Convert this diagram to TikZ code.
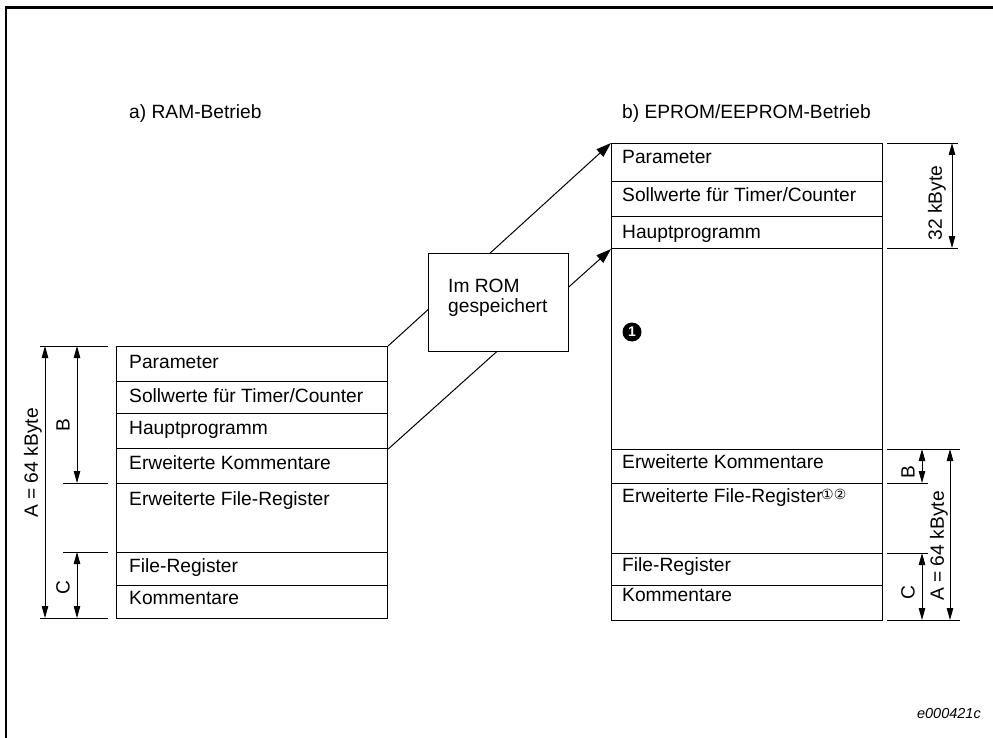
\documentclass[tikz,border=0pt]{standalone}
\usepackage{fontspec}
\setmainfont{Liberation Sans}
\newfontfamily\dejavu{DejaVu Sans}
\usetikzlibrary{arrows.meta}
\begin{document}
\begin{tikzpicture}[x=1pt,y=-1pt,
  cell/.style={draw, line width=1.1pt, anchor=north west, minimum width=271pt, inner sep=0pt},
  txt/.style={anchor=west, inner sep=0pt, text height=13.6pt, text depth=0pt, font=\fontsize{19.2}{19.5}\selectfont},
  ext/.style={line width=0.8pt},
  dim/.style={line width=0.8pt, {Triangle[length=12pt,width=6.5pt]}-{Triangle[length=12pt,width=6.5pt]}},
  dimlbl/.style={rotate=90, inner sep=0pt, font=\fontsize{19.2}{19.5}\selectfont},
  bigarrow/.style={line width=1pt, -{Triangle[length=15pt,width=10pt]}},
  rombox/.style={draw, fill=white, line width=1.1pt, anchor=north west, minimum width=140pt, minimum height=98pt, inner sep=0pt}
]
\useasboundingbox (0,0) rectangle (993,738);
% frame
\draw[line width=2.5pt] (6,738) -- (6,7.5) -- (993,7.5);

% titles
\node[txt] (ta) at (129,112) {a) RAM-Betrieb};
\node[txt] (tb) at (622,112) {b) EPROM/EEPROM-Betrieb};

% left memory map
\node[cell, minimum height=35pt] (L1) at (116,346) {};
\node[cell, minimum height=32pt] (L2) at (116,381) {};
\node[cell, minimum height=35pt] (L3) at (116,413) {};
\node[cell, minimum height=35pt] (L4) at (116,448) {};
\node[cell, minimum height=69pt] (L5) at (116,483) {};
\node[cell, minimum height=33pt] (L6) at (116,552) {};
\node[cell, minimum height=33pt] (L7) at (116,585) {};
\node[txt] at (129,362) {Parameter};
\node[txt] at (129,396) {Sollwerte für Timer/Counter};
\node[txt] at (129,428) {Hauptprogramm};
\node[txt] at (129,463) {Erweiterte Kommentare};
\node[txt] at (129,499) {Erweiterte File-Register};
\node[txt] at (129,566) {File-Register};
\node[txt] at (129,598) {Kommentare};

% right memory map
\node[cell, minimum height=38pt] (R1) at (611,143) {};
\node[cell, minimum height=35pt] (R2) at (611,181) {};
\node[cell, minimum height=32pt] (R3) at (611,216) {};
\node[cell, minimum height=201pt] (R4) at (611,248) {};
\node[cell, minimum height=34pt] (R5) at (611,449) {};
\node[cell, minimum height=70pt] (R6) at (611,483) {};
\node[cell, minimum height=32pt] (R7) at (611,553) {};
\node[cell, minimum height=35pt] (R8) at (611,585) {};
\node[txt] at (622,157) {Parameter};
\node[txt] at (622,195) {Sollwerte für Timer/Counter};
\node[txt] at (622,232) {Hauptprogramm};
\node[txt] at (622,462) {Erweiterte Kommentare};
\node[txt] (refr) at (622,496) {Erweiterte File-Register};
\node[anchor=west, inner sep=0pt, font=\dejavu\fontsize{14}{14}\selectfont] at (821,494) {①②};
\node[txt] at (622,565) {File-Register};
\node[txt] at (622,595) {Kommentare};
\node[circle, fill=black, text=white, inner sep=0pt, minimum size=19pt, font=\fontsize{14}{14}\selectfont\bfseries] (one) at (632,332) {1};

% transfer arrows and ROM box
\draw[bigarrow] (L1.north east) -- (R1.north west);
\draw[bigarrow] (L3.south east) -- (R3.south west);
\node[rombox] (rom) at (428,253) {};
\node[anchor=north west, inner sep=0pt, align=left, font=\fontsize{19.2}{19.5}\selectfont] at (448,279) {Im ROM\\gespeichert};

% left dimensions
\coordinate (la1) at (45,346); \coordinate (la2) at (45,618);
\coordinate (lb1) at (77,346); \coordinate (lb2) at (77,483);
\coordinate (lc1) at (77,552); \coordinate (lc2) at (77,618);
\draw[ext] (40,346) -- (108,346);
\draw[ext] (63,483) -- (108,483);
\draw[ext] (63,552) -- (108,552);
\draw[ext] (40,618) -- (108,618);
\draw[dim] (la1) -- (la2);
\draw[dim] (lb1) -- (lb2);
\draw[dim] (lc1) -- (lc2);
\node[dimlbl] at (33,463) {A = 64 kByte};
\node[dimlbl] at (63,425) {B};
\node[dimlbl] at (63,588) {C};

% right dimensions
\coordinate (r32a) at (952,143); \coordinate (r32b) at (952,248);
\coordinate (rba) at (922,449); \coordinate (rbb) at (922,483);
\coordinate (raa) at (950,449); \coordinate (rab) at (950,620);
\coordinate (rca) at (922,553); \coordinate (rcb) at (922,620);
\draw[ext] (887,143) -- (958,143);
\draw[ext] (887,248) -- (958,248);
\draw[ext] (887,449) -- (960,449);
\draw[ext] (887,483) -- (928,483);
\draw[ext] (887,553) -- (928,553);
\draw[ext] (887,620) -- (960,620);
\draw[dim] (r32a) -- (r32b);
\draw[dim] (rba) -- (rbb);
\draw[dim] (raa) -- (rab);
\draw[dim] (rca) -- (rcb);
\node[dimlbl] at (937,203) {32 kByte};
\node[dimlbl] at (908,472) {B};
\node[dimlbl] at (908,593) {C};
\node[dimlbl] at (939,546) {A = 64 kByte};

% figure id
\node[anchor=east, inner sep=0pt, font=\fontsize{14.5}{14.5}\selectfont\itshape] (fid) at (981,714) {e000421c};
\end{tikzpicture}
\end{document}
